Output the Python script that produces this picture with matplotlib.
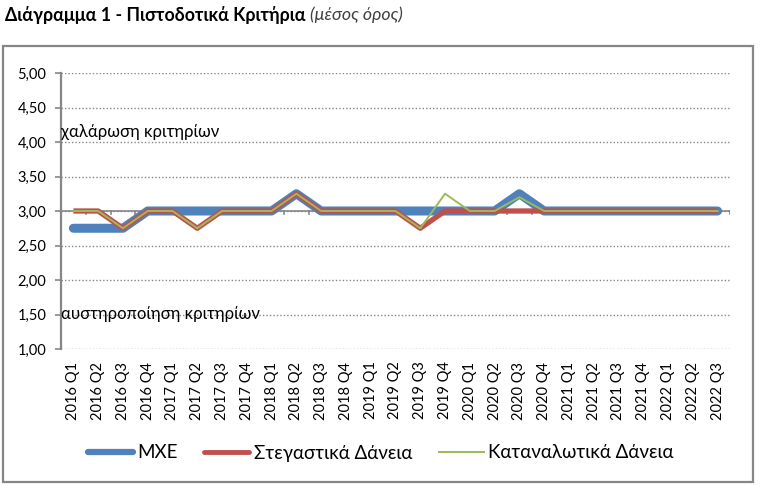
import matplotlib
matplotlib.use("Agg")
import matplotlib.pyplot as plt
from matplotlib.patches import Rectangle
from matplotlib.lines import Line2D
from matplotlib.ticker import FuncFormatter

plt.rcParams['font.family'] = ['Lato', 'Noto Sans', 'DejaVu Sans']

# --- dados ---
quarters = ["2016 Q1", "2016 Q2", "2016 Q3", "2016 Q4",
            "2017 Q1", "2017 Q2", "2017 Q3", "2017 Q4",
            "2018 Q1", "2018 Q2", "2018 Q3", "2018 Q4",
            "2019 Q1", "2019 Q2", "2019 Q3", "2019 Q4",
            "2020 Q1", "2020 Q2", "2020 Q3", "2020 Q4",
            "2021 Q1", "2021 Q2", "2021 Q3", "2021 Q4",
            "2022 Q1", "2022 Q2", "2022 Q3"]
mxe = [2.75, 2.75, 2.75, 3.00, 3.00, 3.00, 3.00, 3.00, 3.00, 3.25,
       3.00, 3.00, 3.00, 3.00, 3.00, 3.00, 3.00, 3.00, 3.25, 3.00,
       3.00, 3.00, 3.00, 3.00, 3.00, 3.00, 3.00]
stegastika = [3.00, 3.00, 2.75, 3.00, 3.00, 2.75, 3.00, 3.00, 3.00, 3.25,
              3.00, 3.00, 3.00, 3.00, 2.75, 3.00, 3.00, 3.00, 3.00, 3.00,
              3.00, 3.00, 3.00, 3.00, 3.00, 3.00, 3.00]
katanalotika = [3.00, 3.00, 2.75, 3.00, 3.00, 2.75, 3.00, 3.00, 3.00, 3.25,
                3.00, 3.00, 3.00, 3.00, 2.75, 3.25, 3.00, 3.00, 3.20, 3.00,
                3.00, 3.00, 3.00, 3.00, 3.00, 3.00, 3.00]
names = ["ΜΧΕ", "Στεγαστικά Δάνεια", "Καταναλωτικά Δάνεια"]

BLUE = "#4F81BD"
RED = "#C0504D"
GREEN = "#9BBB59"
GRAY = "#868686"

W, H = 773, 493
fig = plt.figure(figsize=(W / 100, H / 100), dpi=100)

# moldura do gráfico
fig.patches.append(Rectangle((3 / W, 1 - 482 / H), 750 / W, 436 / H,
                             transform=fig.transFigure, fill=False,
                             edgecolor=GRAY, linewidth=1.6))

ax = fig.add_axes([61 / W, 1 - 349 / H, 669 / W, 276 / H])
x = list(range(len(quarters)))

# eixo de categorias cruza em 3,00
ax.plot([-0.5, len(quarters) - 0.5], [3, 3], color=GRAY, lw=1.2, zorder=1)
for k in range(len(quarters)):
    ax.plot([k + 0.5, k + 0.5], [3, 2.95], color=GRAY, lw=1.2, zorder=1)

ax.plot(x, mxe, color=BLUE, lw=6.5, solid_capstyle='round',
        solid_joinstyle='round', zorder=3)
ax.plot(x, stegastika, color=RED, lw=3.8, solid_capstyle='butt', zorder=4)
ax.plot(x, katanalotika, color=GREEN, lw=1.4, zorder=5)

ax.set_xlim(-0.5, len(quarters) - 0.5)
ax.set_ylim(1, 5)
ax.set_yticks([1 + 0.5 * i for i in range(9)])
ax.yaxis.set_major_formatter(FuncFormatter(lambda v, p: f"{v:.2f}".replace(".", ",")))
ax.yaxis.grid(True, color=GRAY, linestyle=(0, (1, 1.5)), linewidth=1.0)
ax.set_axisbelow(True)

ax.set_xticks(x)
ax.set_xticklabels(quarters, rotation=90, fontsize=10.5)
ax.tick_params(axis='x', length=0, pad=9)
ax.tick_params(axis='y', length=4.5, color=GRAY, width=1.2, labelsize=10.5, pad=6)

for s in ['top', 'right', 'bottom']:
    ax.spines[s].set_visible(False)
ax.spines['left'].set_color(GRAY)
ax.spines['left'].set_linewidth(1.6)

ax.text(0.0, 4.14, "χαλάρωση κριτηρίων", transform=ax.get_yaxis_transform(),
        va='center', ha='left', fontsize=12, color='black')
ax.text(0.0, 1.5, "αυστηροποίηση κριτηρίων", transform=ax.get_yaxis_transform(),
        va='center', ha='left', fontsize=12, color='black')

handles = [Line2D([], [], color=BLUE, lw=4.5, solid_capstyle='round'),
           Line2D([], [], color=RED, lw=3.5, solid_capstyle='round'),
           Line2D([], [], color=GREEN, lw=1.4)]
fig.legend(handles, names, loc='center', bbox_to_anchor=(381 / W, 1 - 453 / H),
           ncol=3, frameon=False, fontsize=13.5, handlelength=2.4,
           handletextpad=0.25, columnspacing=1.4)

# título
t1 = fig.text(5 / W, 1 - 15 / H, "Διάγραμμα 1 - Πιστοδοτικά Κριτήρια",
              fontsize=12.8, fontweight='bold', va='center', ha='left')
fig.canvas.draw()
bb = t1.get_window_extent(fig.canvas.get_renderer())
fig.text((bb.x1 + 5) / W, 1 - 15 / H, "(μέσος όρος)", fontsize=12.8,
         style='italic', color='#404040', va='center', ha='left')

fig.savefig("out.png", dpi=100)
